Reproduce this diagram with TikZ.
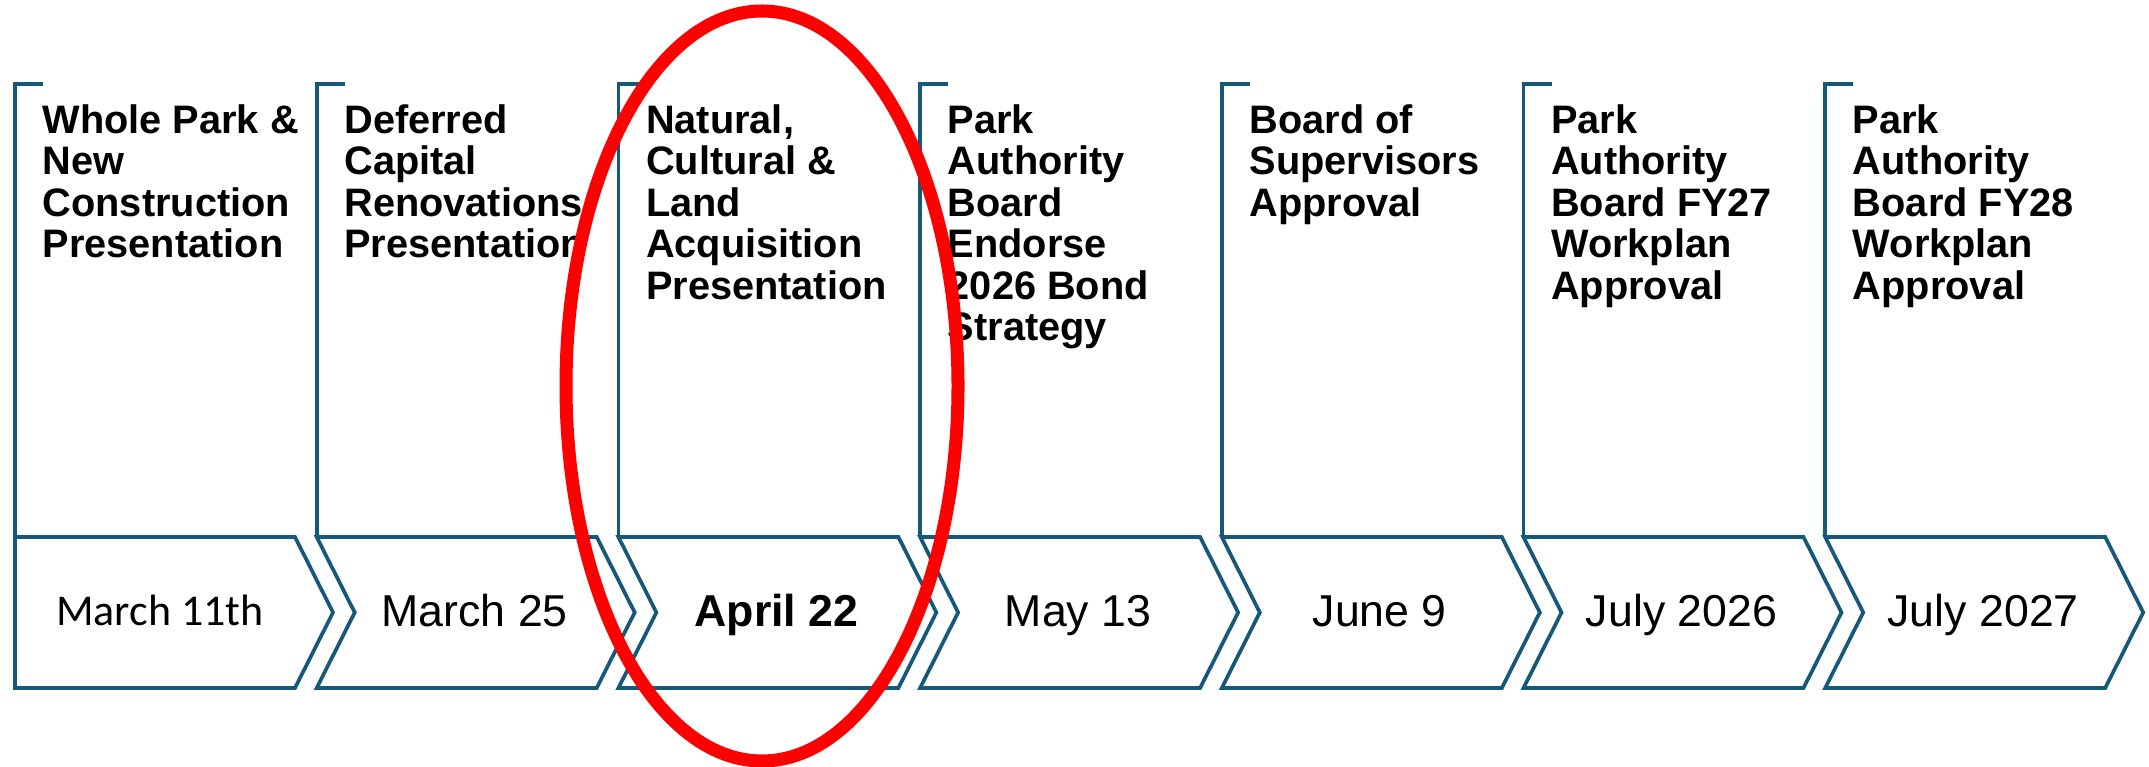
\documentclass[tikz,border=0pt]{standalone}
\usepackage{fontspec}
\setmainfont{Liberation Sans}
\newfontfamily\lightsans{Carlito}
\usepackage{tikz}
\usetikzlibrary{positioning}
\definecolor{stepblue}{RGB}{22,88,120}
\definecolor{ringred}{RGB}{255,0,0}
\tikzset{
  chev/.style={draw=stepblue,fill=white,line width=1.05pt,line join=miter},
  flagline/.style={draw=stepblue,line width=1.05pt,line join=miter},
  milestone/.style={anchor=north west,align=left,inner sep=0pt,
    font=\fontsize{11.3}{11.8}\selectfont\bfseries},
  datelbl/.style={anchor=base,inner sep=0pt,font=\fontsize{12.7}{14}\selectfont},
  ring/.style={draw=ringred,line width=3.7pt}
}

\begin{document}
\begin{tikzpicture}[x=0.01cm,y=0.01cm]
  \useasboundingbox (0,0) rectangle (2149,767);
  % chevrons along the bottom, each with its flag pole
  \foreach \i in {0,...,6} {
    \pgfmathsetmacro\xl{15+301.7*\i}
    \pgfmathsetmacro\nd{\i==0 ? 0 : 38}
    \draw[chev] (\xl,230) -- ++(280,0) -- ++(38,-75.5) -- ++(-38,-75.5)
      -- ++(-280,0) -- ++(\nd,75.5) -- cycle;
    \draw[flagline] (\xl,230) -- (\xl,683) -- ++(28,0);
  }
  % milestone texts
  \node[milestone] (m1) at (42,663) {Whole Park \&\\New\\Construction\\Presentation};
  \node[milestone] (m2) at (343.7,663) {Deferred\\Capital\\Renovations\\Presentation};
  \node[milestone] (m3) at (645.4,663) {Natural,\\Cultural \&\\Land\\Acquisition\\Presentation};
  \node[milestone] (m4) at (947.1,663) {Park\\Authority\\Board\\Endorse\\2026 Bond\\Strategy};
  \node[milestone] (m5) at (1248.8,663) {Board of\\Supervisors\\Approval};
  \node[milestone] (m6) at (1550.5,663) {Park\\Authority\\Board FY27\\Workplan\\Approval};
  \node[milestone] (m7) at (1852.2,663) {Park\\Authority\\Board FY28\\Workplan\\Approval};
  % dates
  \node[datelbl,font=\fontsize{12.5}{14}\selectfont\lightsans] (d1) at (160,141) {March 11th};
  \node[datelbl] (d2) at (474.7,140) {March 25};
  \node[datelbl,font=\fontsize{12.7}{14}\selectfont\bfseries] (d3) at (776.4,140) {April 22};
  \node[datelbl] (d4) at (1078.1,140) {May 13};
  \node[datelbl] (d5) at (1379.8,140) {June 9};
  \node[datelbl] (d6) at (1681.5,140) {July 2026};
  \node[datelbl] (d7) at (1983.2,140) {July 2027};
  % highlight on the current step
  \draw[ring] (762,381) ellipse [x radius=196, y radius=375];
\end{tikzpicture}
\end{document}
